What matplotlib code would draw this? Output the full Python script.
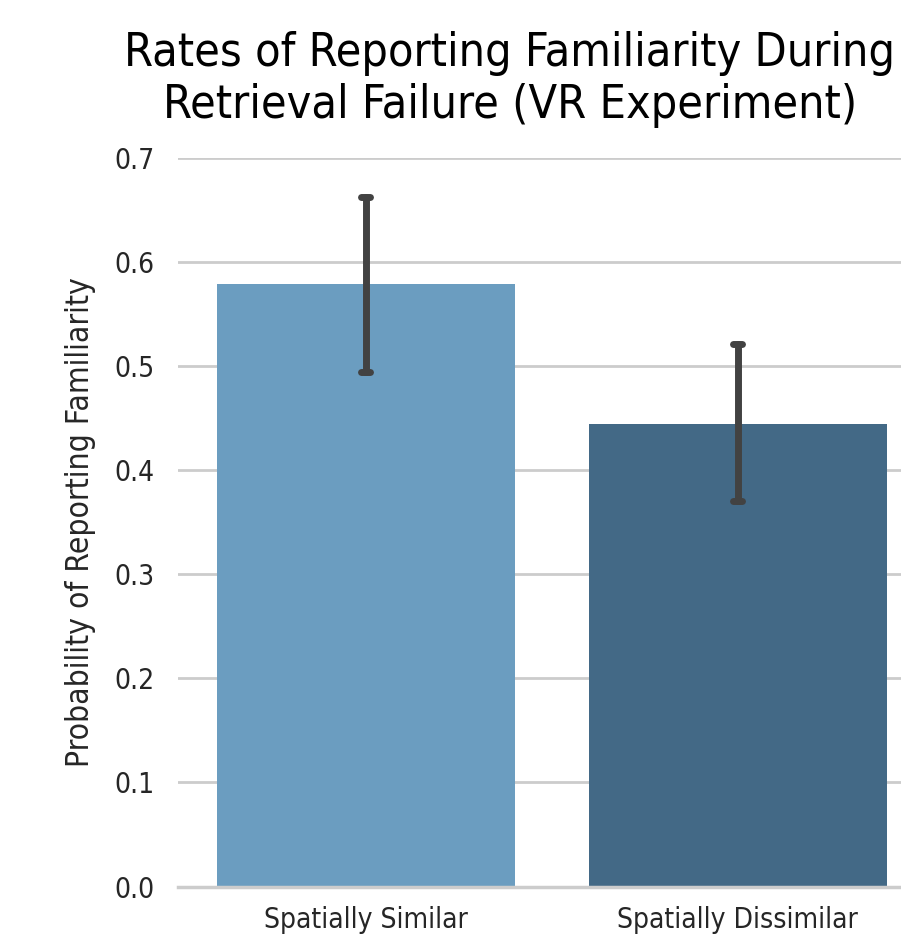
import matplotlib.pyplot as plt

# condition means and 95% CI bounds
conditions = ['Spatially Similar', 'Spatially Dissimilar']
means = [0.579, 0.444]
ci_low = [0.494, 0.370]
ci_high = [0.663, 0.521]
bar_colors = ['#6b9dc0', '#436986']
yticks = [0.0, 0.1, 0.2, 0.3, 0.4, 0.5, 0.6, 0.7]

plt.rcParams['font.family'] = ['DejaVu Sans']
plt.rcParams['font.stretch'] = 'condensed'
text_color = '#262626'

W, H = 901, 941
fig = plt.figure(figsize=(W / 100, H / 100), dpi=100)

# axes placed in pixel terms
left, right, bottom, top = 178, 920, 886.5, 158
ax = fig.add_axes([left / W, (H - bottom) / H, (right - left) / W, (bottom - top) / H])

x = list(range(len(conditions)))
ax.bar(x, means, width=0.8, color=bar_colors, zorder=2)

# error bars with rounded ends
for xi, lo, hi in zip(x, ci_low, ci_high):
    ax.plot([xi, xi], [lo, hi], color='#424242', lw=5, solid_capstyle='round', zorder=3)
    for yv in (lo, hi):
        ax.plot([xi - 0.012, xi + 0.012], [yv, yv], color='#424242', lw=5,
                solid_capstyle='round', zorder=3)

ax.set_xlim(-0.505, 1.49)
ax.set_ylim(0, 0.7)
ax.set_yticks(yticks)
ax.set_yticklabels([f'{t:.1f}' for t in yticks])
ax.set_xticks(x)
ax.set_xticklabels(conditions)
ax.tick_params(axis='both', length=0, labelsize=20.2, colors=text_color)
ax.tick_params(axis='y', pad=17)
ax.tick_params(axis='x', pad=14)
ax.yaxis.grid(True, color='#cccccc', lw=2, zorder=0)
ax.set_axisbelow(True)
for s in ['top', 'right', 'left']:
    ax.spines[s].set_visible(False)
ax.spines['bottom'].set_color('#cccccc')
ax.spines['bottom'].set_linewidth(2.5)

ax.set_ylabel('Probability of Reporting Familiarity', fontsize=22.8, color=text_color, labelpad=13)

fig.text(510 / W, 1 - 79 / H, 'Rates of Reporting Familiarity During\nRetrieval Failure (VR Experiment)',
         ha='center', va='center', fontsize=33.5, color='black', linespacing=1.2)

fig.savefig('out.png', dpi=100)
